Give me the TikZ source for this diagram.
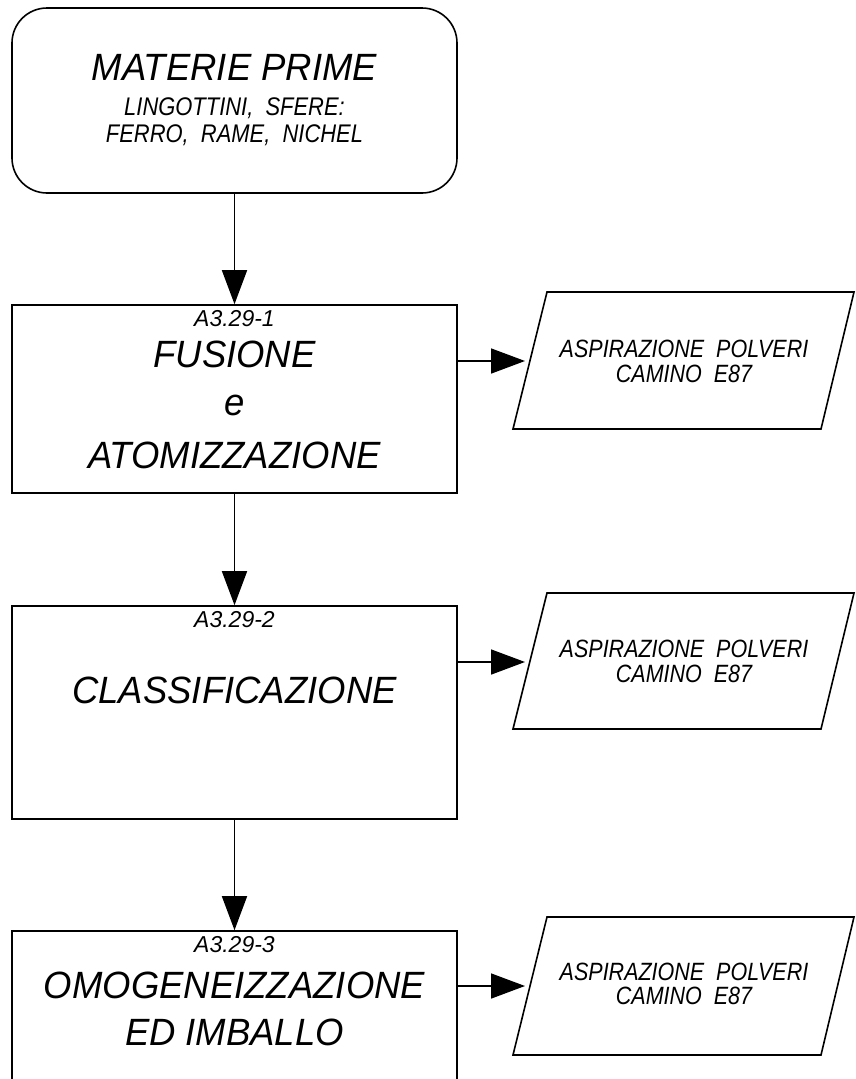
\documentclass[tikz,border=0pt]{standalone}
\usepackage{fontspec}
\setmainfont{Liberation Sans}
\newfontfamily\narrowlib{Liberation Sans}[FakeStretch=0.86]
\newfontfamily\semilib{Liberation Sans}[FakeStretch=0.96]
\usetikzlibrary{arrows.meta}
\tikzset{
  box/.style={draw, line width=1.6pt, inner sep=0pt, minimum width=445pt},
  rbox/.style={box, rounded corners=35pt},
  pbox/.style={draw, line width=1.6pt, line join=miter},
  arr/.style={line width=1.6pt, -{Triangle[length=34pt,width=25pt]}},
  txt/.style={inner sep=0pt, anchor=base},
  bigt/.style={txt, font=\semilib\fontsize{38}{42}\selectfont\itshape},
  midt/.style={txt, font=\narrowlib\fontsize{25.5}{28}\selectfont\itshape},
  codet/.style={txt, font=\fontsize{23}{26}\selectfont\itshape},
  outt/.style={txt, font=\narrowlib\fontsize{25}{28}\selectfont\itshape},
}
\begin{document}
\begin{tikzpicture}[x=1pt,y=-1pt]
\useasboundingbox (0,0) rectangle (856,1079);
\clip (0,0) rectangle (856,1079);
\fill[white] (0,0) rectangle (856,1079);

% top: raw materials
\node[rbox, minimum height=185pt] (mp) at (234.5,100.5) {};
\node[bigt] (mpt) at (234.5,80) {MATERIE PRIME};
\node[midt] (mpa) at (234.5,115) {LINGOTTINI,\ \ SFERE:};
\node[midt] (mpb) at (234.5,142) {FERRO,\ \ RAME,\ \ NICHEL};

% box 1
\node[box, minimum height=188pt] (b1) at (234.5,399) {};
\node[codet] (c1) at (234.5,326) {A3.29-1};
\node[bigt] (b1a) at (234.5,367) {FUSIONE};
\node[bigt] (b1b) at (234.5,415) {e};
\node[bigt] (b1c) at (234.5,468) {ATOMIZZAZIONE};

% box 2
\node[box, minimum height=213pt] (b2) at (234.5,712.5) {};
\node[codet] (c2) at (234.5,627) {A3.29-2};
\node[bigt] (b2a) at (234.5,703) {CLASSIFICAZIONE};

% box 3 (runs past the bottom edge)
\node[box, minimum height=240pt] (b3) at (234.5,1051) {};
\node[codet] (c3) at (234.5,952) {A3.29-3};
\node[bigt] (b3a) at (234.5,998) {OMOGENEIZZAZIONE};
\node[bigt] (b3b) at (234.5,1045) {ED IMBALLO};

% outputs (parallelograms)
\draw[pbox] (547,292) -- (854,292) -- (821,429) -- (513,429) -- cycle;
\node[outt] (o1a) at (684,357) {ASPIRAZIONE\ \ POLVERI};
\node[outt] (o1b) at (684,382) {CAMINO\ \ E87};
\coordinate (t1) at (525,361);

\draw[pbox] (547,593) -- (854,593) -- (821,729) -- (513,729) -- cycle;
\node[outt] (o2a) at (684,657) {ASPIRAZIONE\ \ POLVERI};
\node[outt] (o2b) at (684,682) {CAMINO\ \ E87};
\coordinate (t2) at (525,662);

\draw[pbox] (547,917) -- (854,917) -- (821,1055) -- (513,1055) -- cycle;
\node[outt] (o3a) at (684,980) {ASPIRAZIONE\ \ POLVERI};
\node[outt] (o3b) at (684,1004) {CAMINO\ \ E87};
\coordinate (t3) at (525,986);

% connectors
\draw[arr] (mp.south) -- (b1.north);
\draw[arr] (b1.south) -- (b2.north);
\draw[arr] (b2.south) -- (b3.north);
\draw[arr] (b1.east |- t1) -- (t1);
\draw[arr] (b2.east |- t2) -- (t2);
\draw[arr] (b3.east |- t3) -- (t3);
\end{tikzpicture}
\end{document}
